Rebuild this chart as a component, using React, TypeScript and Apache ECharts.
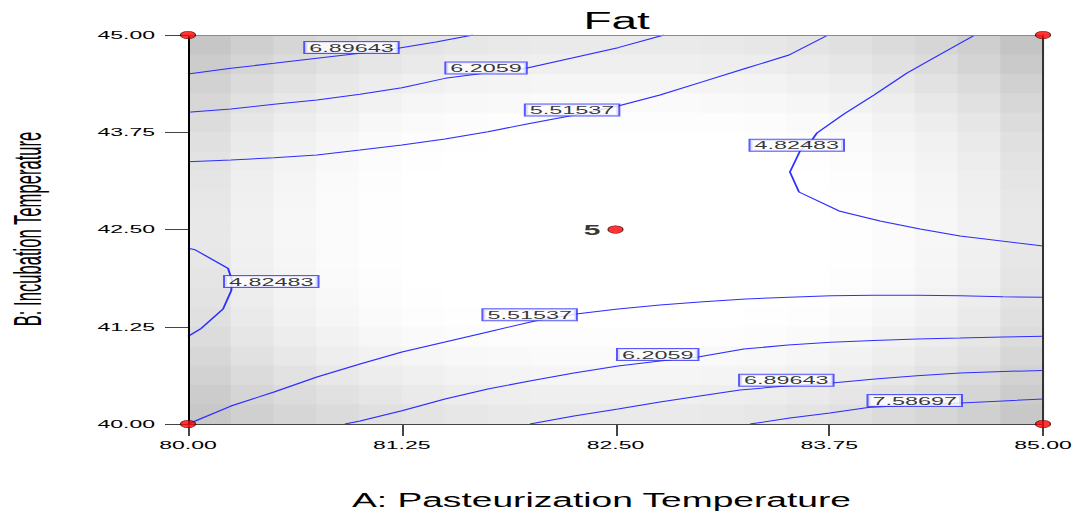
import React, { useEffect, useRef } from "react";
import * as echarts from "echarts";

// Axis ranges (A: Pasteurization Temperature, B: Incubation Temperature)
const A_MIN = 80;
const A_MAX = 85;
const B_MIN = 40;
const B_MAX = 45;
const TICK_STEP = 1.25;

// Background shading cells (20 x 20, top row first), grey level 0-255
const CELL_A = 0.25;
const CELL_B = 0.25;
const shadeGrid: number[][] = [
  [198, 207, 214, 219, 224, 228, 231, 233, 234, 234, 234, 234, 233, 231, 228, 224, 219, 214, 207, 196],
  [204, 213, 220, 225, 230, 234, 237, 238, 239, 239, 239, 239, 238, 237, 234, 230, 225, 220, 212, 202],
  [210, 219, 226, 232, 237, 240, 243, 244, 245, 245, 245, 245, 244, 243, 240, 237, 232, 226, 219, 209],
  [215, 225, 232, 238, 242, 246, 248, 249, 250, 250, 250, 250, 249, 248, 246, 242, 238, 232, 225, 215],
  [220, 230, 237, 242, 247, 250, 252, 253, 253, 253, 253, 253, 253, 252, 250, 247, 242, 237, 230, 220],
  [224, 234, 241, 246, 250, 253, 254, 255, 255, 255, 255, 255, 255, 254, 253, 250, 246, 241, 234, 224],
  [227, 237, 243, 248, 252, 254, 255, 255, 255, 255, 255, 255, 255, 255, 254, 252, 248, 243, 237, 227],
  [229, 239, 245, 250, 253, 255, 255, 255, 255, 255, 255, 255, 255, 255, 255, 253, 250, 245, 239, 229],
  [231, 240, 246, 251, 254, 255, 255, 255, 255, 255, 255, 255, 255, 255, 255, 254, 251, 246, 240, 231],
  [232, 241, 247, 251, 254, 255, 255, 255, 255, 255, 255, 255, 255, 255, 255, 254, 251, 247, 241, 232],
  [232, 241, 247, 251, 254, 255, 255, 255, 255, 255, 255, 255, 255, 255, 255, 254, 251, 247, 241, 232],
  [231, 240, 246, 251, 254, 255, 255, 255, 255, 255, 255, 255, 255, 255, 255, 254, 251, 246, 240, 231],
  [229, 239, 245, 250, 253, 255, 255, 255, 255, 255, 255, 255, 255, 255, 255, 253, 250, 245, 239, 229],
  [227, 237, 243, 248, 252, 254, 255, 255, 255, 255, 255, 255, 255, 255, 254, 252, 248, 243, 237, 227],
  [224, 234, 241, 246, 250, 253, 254, 255, 255, 255, 255, 255, 255, 254, 253, 250, 246, 241, 234, 224],
  [220, 230, 237, 242, 247, 250, 252, 253, 253, 253, 253, 253, 253, 252, 250, 247, 242, 237, 230, 220],
  [215, 225, 232, 238, 242, 246, 248, 249, 250, 250, 250, 250, 249, 248, 246, 242, 238, 232, 225, 215],
  [210, 219, 226, 232, 237, 240, 243, 244, 245, 245, 245, 245, 244, 243, 240, 237, 232, 226, 219, 210],
  [204, 213, 220, 225, 230, 234, 237, 238, 239, 239, 239, 239, 238, 237, 234, 230, 225, 220, 213, 204],
  [200, 208, 214, 219, 224, 228, 231, 233, 234, 234, 234, 234, 233, 231, 228, 224, 219, 214, 208, 200],
];

// Contour lines of Fat, as [A, B] points
const fat482Left: number[][] = [
  [80, 42.258], [80.041, 42.24], [80.234, 42.001], [80.257, 41.851], [80.253, 41.713],
  [80.205, 41.478], [80.078, 41.23], [80, 41.127],
];
const fat482Right: number[][] = [
  [84.602, 45], [84.392, 44.743], [84.205, 44.512], [84.012, 44.229], [83.836, 43.985],
  [83.678, 43.74], [83.649, 43.65], [83.579, 43.509], [83.52, 43.239], [83.573, 42.982],
  [83.807, 42.738], [84.047, 42.609], [84.281, 42.506], [84.515, 42.416], [85, 42.288],
];
const fat551Upper: number[][] = [
  [80, 43.371], [80.251, 43.393], [80.503, 43.423], [80.754, 43.458], [81.006, 43.522],
  [81.251, 43.586], [81.503, 43.663], [81.754, 43.757], [82.006, 43.865], [82.263, 43.972],
  [82.515, 44.087], [82.76, 44.229], [83.012, 44.4], [83.263, 44.572], [83.515, 44.743],
  [83.743, 45],
];
const fat551Lower: number[][] = [
  [80, 40], [80.251, 40.231], [80.503, 40.411], [80.754, 40.604], [81.006, 40.771],
  [81.251, 40.925], [81.503, 41.054], [81.754, 41.183], [82.029, 41.324], [82.269, 41.414],
  [82.515, 41.478], [82.76, 41.53], [83.012, 41.572], [83.263, 41.607], [83.515, 41.629],
  [83.76, 41.649], [84.012, 41.654], [84.263, 41.654], [84.515, 41.649], [84.766, 41.636],
  [85, 41.629],
];
const fat621Upper: number[][] = [
  [80, 44.006], [80.251, 44.049], [80.503, 44.109], [80.754, 44.165], [81.006, 44.238],
  [81.251, 44.323], [81.503, 44.443], [81.743, 44.512], [81.977, 44.572], [82.246, 44.704],
  [82.515, 44.837], [82.784, 45],
];
const fat621Lower: number[][] = [
  [80.918, 40], [81.006, 40.039], [81.251, 40.171], [81.503, 40.321], [81.754, 40.45],
  [82.006, 40.557], [82.257, 40.655], [82.515, 40.746], [82.76, 40.81], [82.982, 40.861],
  [83.251, 40.964], [83.509, 41.015], [83.76, 41.05], [84.012, 41.073], [84.263, 41.093],
  [84.515, 41.105], [84.766, 41.118], [85, 41.127],
];
const fat690Upper: number[][] = [
  [80, 44.499], [80.251, 44.572], [80.503, 44.636], [80.754, 44.701], [81.006, 44.765],
  [81.228, 44.829], [81.45, 44.91], [81.667, 45],
];
const fat690Lower: number[][] = [
  [82.0, 40], [82.257, 40.103], [82.515, 40.193], [82.76, 40.283], [83.012, 40.366],
  [83.228, 40.437], [83.497, 40.489], [83.766, 40.527], [84.018, 40.578], [84.263, 40.621],
  [84.515, 40.655], [84.766, 40.675], [85, 40.688],
];
const fat759Lower: number[][] = [
  [83.287, 40], [83.52, 40.077], [83.754, 40.141], [83.977, 40.212], [84.251, 40.244],
  [84.52, 40.27], [84.766, 40.296], [85, 40.321],
];
const contourLines = [
  fat482Left, fat482Right, fat551Upper, fat551Lower, fat621Upper,
  fat621Lower, fat690Upper, fat690Lower, fat759Lower,
];

// Contour level labels and where they sit
const levelLabels: string[] = [
  "6.89643", "6.2059", "5.51537", "4.82483", "4.82483",
  "5.51537", "6.2059", "6.89643", "7.58697",
];
const levelLabelAt: number[][] = [
  [80.956, 44.839], [81.743, 44.576], [82.246, 44.036], [83.56, 43.584], [80.487, 41.832],
  [81.998, 41.403], [82.747, 40.893], [83.499, 40.563], [84.25, 40.302],
];

// Design points: factorial corners and centre point (5 replicates)
const designPoints: number[][] = [
  [80, 40], [80, 45], [85, 40], [85, 45], [82.5, 42.5],
];
const centreReplicates = "5";

const FONT = '"Liberation Sans", Arial, sans-serif';
const CONTOUR_BLUE = "#2f2fff";

export default function App() {
  const ref = useRef<HTMLDivElement>(null);

  useEffect(() => {
    if (!ref.current) return;
    const chart = echarts.init(ref.current, undefined, { renderer: "svg" });

    const cells: number[][] = [];
    shadeGrid.forEach((row, r) => {
      row.forEach((g, c) => {
        cells.push([A_MIN + c * CELL_A, B_MAX - r * CELL_B, g]);
      });
    });

    const tickFmt = (v: number) => v.toFixed(2);

    const series: any[] = [
      {
        type: "custom",
        z: 1,
        silent: true,
        data: cells,
        renderItem: (_p: any, api: any) => {
          const a0 = api.value(0);
          const b1 = api.value(1);
          const g = api.value(2);
          const p0 = api.coord([a0, b1]);
          const p1 = api.coord([a0 + CELL_A, b1 - CELL_B]);
          return {
            type: "rect",
            shape: {
              x: p0[0],
              y: p0[1],
              width: p1[0] - p0[0] + 0.6,
              height: p1[1] - p0[1] + 0.6,
            },
            style: { fill: `rgb(${g},${g},${g})` },
          };
        },
      },
    ];

    contourLines.forEach((pts) => {
      series.push({
        type: "line",
        z: 3,
        silent: true,
        data: pts,
        symbol: "none",
        lineStyle: { color: CONTOUR_BLUE, width: 1 },
      });
    });

    series.push({
      type: "scatter",
      z: 5,
      silent: true,
      symbolSize: 1,
      itemStyle: { color: "rgba(0,0,0,0)" },
      data: levelLabels.map((t, i) => ({ name: t, value: levelLabelAt[i] })),
      label: {
        show: true,
        position: "inside",
        formatter: (p: any) => p.name,
        color: "#000",
        fontFamily: FONT,
        fontSize: 11.7,
        lineHeight: 10,
        backgroundColor: "#fff",
        borderColor: CONTOUR_BLUE,
        borderWidth: 1,
        padding: [1, 2, 0, 2],
      },
    });

    series.push({
      type: "scatter",
      z: 20,
      silent: true,
      clip: false,
      symbolSize: 7.5,
      itemStyle: { color: "#ff0000", borderColor: "#300", borderWidth: 0.6 },
      data: designPoints.map((p, i) =>
        i === designPoints.length - 1
          ? {
              value: p,
              label: {
                show: true,
                position: "left",
                distance: 3.5,
                formatter: centreReplicates,
                color: "#000",
                fontWeight: "bold",
                fontSize: 15,
                fontFamily: FONT,
              },
            }
          : { value: p }
      ),
    });

    chart.setOption({
      animation: false,
      backgroundColor: "#fff",
      grid: { left: 94, top: 35, width: 427.5, height: 389, show: false },
      xAxis: [
        {
          type: "value",
          min: A_MIN,
          max: A_MAX,
          interval: TICK_STEP,
          z: 10,
          axisLine: { show: true, lineStyle: { color: "#444", width: 1 } },
          axisTick: { show: true, length: 12, lineStyle: { color: "#444" } },
          axisLabel: {
            formatter: tickFmt,
            fontSize: 11.5,
            color: "#000",
            fontFamily: FONT,
            margin: 15,
            showMinLabel: true,
            showMaxLabel: true,
          },
          splitLine: { show: false },
        },
        {
          type: "value",
          position: "top",
          min: A_MIN,
          max: A_MAX,
          z: 10,
          axisLine: { show: true, lineStyle: { color: "#8a8a8a", width: 1 } },
          axisTick: { show: false },
          axisLabel: { show: false },
          splitLine: { show: false },
        },
      ],
      yAxis: [
        {
          type: "value",
          min: B_MIN,
          max: B_MAX,
          interval: TICK_STEP,
          z: 10,
          axisLine: { show: true, lineStyle: { color: "#000", width: 1 } },
          axisTick: { show: true, length: 11.5, lineStyle: { color: "#444" } },
          axisLabel: {
            formatter: tickFmt,
            fontSize: 11.5,
            color: "#000",
            fontFamily: FONT,
            margin: 16.5,
            showMinLabel: true,
            showMaxLabel: true,
          },
          splitLine: { show: false },
        },
        {
          type: "value",
          position: "right",
          min: B_MIN,
          max: B_MAX,
          z: 10,
          axisLine: { show: true, lineStyle: { color: "#333", width: 1 } },
          axisTick: { show: false },
          axisLabel: { show: false },
          splitLine: { show: false },
        },
      ],
      graphic: [
        {
          type: "text",
          x: 308.3,
          y: 21,
          style: {
            text: "Fat",
            fontSize: 23,
            fontFamily: FONT,
            fill: "#000",
            align: "center",
            verticalAlign: "middle",
            textAlign: "center",
            textVerticalAlign: "middle",
          },
        },
        {
          type: "text",
          x: 13.5,
          y: 229,
          rotation: Math.PI / 2,
          scaleX: 0.875,
          style: {
            text: "B: Incubation Temperature",
            fontSize: 19,
            fontFamily: FONT,
            fill: "#000",
            align: "center",
            verticalAlign: "middle",
            textAlign: "center",
            textVerticalAlign: "middle",
          },
        },
        {
          type: "text",
          x: 300.75,
          y: 499.7,
          scaleX: 0.885,
          style: {
            text: "A: Pasteurization Temperature",
            fontSize: 21,
            fontFamily: FONT,
            fill: "#000",
            align: "center",
            verticalAlign: "middle",
            textAlign: "center",
            textVerticalAlign: "middle",
          },
        },
      ],
      series,
    });

    return () => chart.dispose();
  }, []);

  return (
    <div
      style={{
        position: "fixed",
        left: 0,
        top: 0,
        width: 1088,
        height: 515,
        overflow: "hidden",
        background: "#fff",
      }}
    >
      <div
        ref={ref}
        style={{
          width: 544,
          height: 515,
          transform: "scaleX(2)",
          transformOrigin: "0 0",
        }}
      />
    </div>
  );
}
